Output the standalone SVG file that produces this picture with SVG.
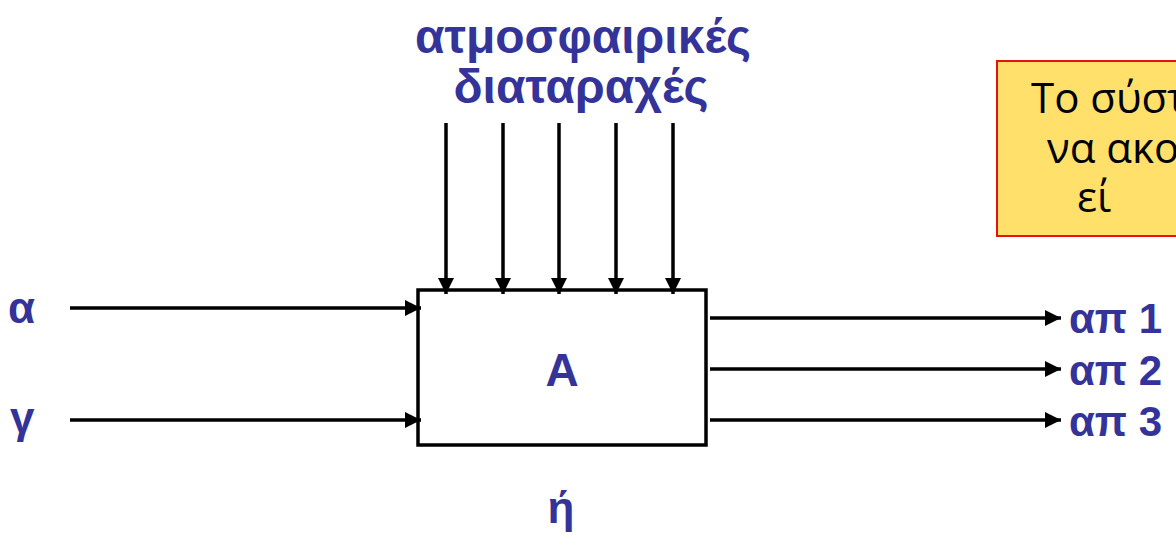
<svg xmlns="http://www.w3.org/2000/svg" width="1176" height="545" viewBox="0 0 1176 545">
<defs>
<marker id="ah" markerWidth="16" markerHeight="16" viewBox="0 0 16 16" refX="16" refY="8" orient="auto" markerUnits="userSpaceOnUse">
<path d="M0,0 L16,8 L0,16 Z" fill="#000"/>
</marker>
</defs>
<style>
.lbl{font-family:"Liberation Sans",Arial,sans-serif;font-weight:bold;fill:#333399;}
.ttl{font-family:"Liberation Sans",Arial,sans-serif;font-weight:bold;fill:#333399;font-size:48px;}
.conn line{stroke:#000;stroke-width:3.5;marker-end:url(#ah);}
.note{font-family:"Open Sans","Noto Sans",sans-serif;font-size:42px;fill:#000;}
</style>
<rect width="1176" height="545" fill="#fff"/>
<g id="title">
<text class="ttl" x="583" y="53" text-anchor="middle">ατμοσφαιρικές</text>
<text class="ttl" x="581" y="103" text-anchor="middle">διαταραχές</text>
</g>
<g id="note">
<rect x="997" y="61" width="200" height="175" fill="#FFE06B" stroke="#E81010" stroke-width="2"/>
<text class="note" x="1031" y="113">Το σύστ</text>
<text class="note" x="1047" y="163">να ακο</text>
<text class="note" x="1077" y="212">εί</text>
</g>
<g id="nodeA">
<rect x="418" y="290" width="288" height="155" fill="#fff" stroke="#000" stroke-width="3.5"/>
<text class="lbl" x="562" y="386" font-size="46" text-anchor="middle">A</text>
</g>
<g id="inputs">
<text class="lbl" x="8" y="323" font-size="44">α</text>
<text class="lbl" x="10" y="433" font-size="44">γ</text>
</g>
<g id="outputs">
<text class="lbl" x="1069" y="333" font-size="42">απ 1</text>
<text class="lbl" x="1069" y="385" font-size="42">απ 2</text>
<text class="lbl" x="1069" y="436" font-size="42">απ 3</text>
</g>
<g id="or">
<text class="lbl" x="561" y="523" font-size="44" text-anchor="middle">ή</text>
</g>
<g id="connectors" class="conn">
<line x1="446" y1="123" x2="446" y2="294"/>
<line x1="503" y1="123" x2="503" y2="294"/>
<line x1="559" y1="123" x2="559" y2="294"/>
<line x1="616" y1="123" x2="616" y2="294"/>
<line x1="673" y1="123" x2="673" y2="294"/>
<line x1="70" y1="308" x2="421" y2="308"/>
<line x1="70" y1="420" x2="421" y2="420"/>
<line x1="710" y1="318" x2="1061" y2="318"/>
<line x1="710" y1="369" x2="1061" y2="369"/>
<line x1="710" y1="420" x2="1061" y2="420"/>
</g>
</svg>
